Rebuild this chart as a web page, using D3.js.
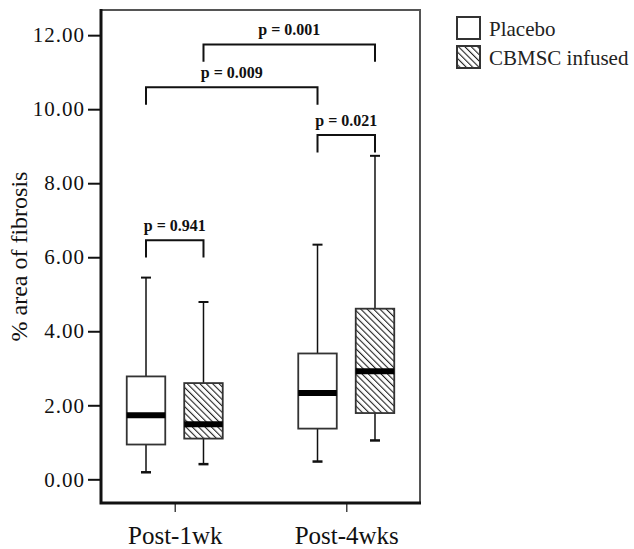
<!DOCTYPE html>
<html>
<head>
<meta charset="utf-8">
<script src="https://cdn.jsdelivr.net/npm/d3@7"></script>
<style>
  body { margin: 0; background: #fff; }
  svg { display: block; }
  svg text { font-family: "Liberation Serif", "Times New Roman", serif; }
</style>
</head>
<body>
<div id="chart"></div>
<script>
// Data
const groups = ["Post-1wk", "Post-4wks"];
const treatments = ["Placebo", "CBMSC infused"];

// one entry per box: Post-1wk Placebo, Post-1wk CBMSC, Post-4wks Placebo, Post-4wks CBMSC
const boxGroup = ["Post-1wk", "Post-1wk", "Post-4wks", "Post-4wks"];
const boxTreatment = ["Placebo", "CBMSC infused", "Placebo", "CBMSC infused"];
const whiskerLow = [0.19, 0.41, 0.48, 1.05];
const q1 = [0.94, 1.1, 1.37, 1.79];
const medians = [1.73, 1.49, 2.33, 2.92];
const q3 = [2.78, 2.6, 3.4, 4.61];
const whiskerHigh = [5.45, 4.79, 6.34, 8.74];

// significance brackets (indices into the boxes above)
const pLabels = ["p = 0.941", "p = 0.009", "p = 0.021", "p = 0.001"];
const bracketFrom = [0, 0, 2, 1];
const bracketTo = [1, 2, 3, 3];
const bracketY = [6.46, 10.59, 9.3, 11.75];
const bracketDrop = 0.47;

const yTicks = [0, 2, 4, 6, 8, 10, 12];

const width = 634, height = 549;
const plot = { left: 101, top: 10, right: 420, bottom: 503 };
const serif = "Liberation Serif, Times New Roman, serif";

const svg = d3.select("#chart")
  .append("svg")
  .attr("width", width)
  .attr("height", height)
  .attr("viewBox", [0, 0, width, height]);

// Hatch pattern
const defs = svg.append("defs");
defs.append("pattern")
  .attr("id", "hatch")
  .attr("patternUnits", "userSpaceOnUse")
  .attr("width", 4.5)
  .attr("height", 4.5)
  .attr("patternTransform", "rotate(-45)")
  .call((p) => p.append("rect").attr("width", 4.5).attr("height", 4.5).attr("fill", "#fff"))
  .append("line")
  .attr("x1", 0).attr("y1", 0)
  .attr("x2", 0).attr("y2", 4.5)
  .attr("stroke", "#222")
  .attr("stroke-width", 2.2);

// Scales
const x = d3.scalePoint()
  .domain(groups)
  .range([plot.left, plot.right])
  .padding(0.43);

const xSub = d3.scaleBand()
  .domain(treatments)
  .range([-48, 48])
  .paddingInner(0.33)
  .paddingOuter(0);

const y = d3.scaleLinear()
  .domain([-0.64, 12.68])
  .range([plot.bottom, plot.top]);

const boxX = (i) => x(boxGroup[i]) + xSub(boxTreatment[i]);
const boxC = (i) => boxX(i) + xSub.bandwidth() / 2;

// Frame: top and right thin grey
svg.append("path")
  .attr("d", `M${plot.left},${plot.top}H${plot.right}V${plot.bottom}`)
  .attr("fill", "none")
  .attr("stroke", "#555")
  .attr("stroke-width", 2);

// Y axis
svg.append("g")
  .attr("transform", `translate(${plot.left},0)`)
  .call(d3.axisLeft(y).tickValues(yTicks).tickSize(13).tickPadding(3).tickFormat(d3.format(".2f")))
  .attr("font-family", serif)
  .call((g) => g.select(".domain").remove())
  .call((g) => g.selectAll(".tick line").attr("stroke", "#111").attr("stroke-width", 2))
  .call((g) => g.selectAll(".tick text")
    .attr("font-size", 21)
    .attr("letter-spacing", 1)
    .attr("fill", "#111"));

// X axis
svg.append("g")
  .attr("transform", `translate(0,${plot.bottom})`)
  .call(d3.axisBottom(x).tickSize(9).tickPadding(14))
  .attr("font-family", serif)
  .call((g) => g.select(".domain").remove())
  .call((g) => g.selectAll(".tick line").attr("stroke", "#444").attr("stroke-width", 1.5))
  .call((g) => g.selectAll(".tick text")
    .attr("font-size", 25)
    .attr("fill", "#111"));

// Left and bottom axis lines (thick)
svg.append("path")
  .attr("d", `M${plot.left},${plot.top - 1}V${plot.bottom}H${plot.right + 1}`)
  .attr("fill", "none")
  .attr("stroke", "#111")
  .attr("stroke-width", 3);

// Y title
svg.append("text")
  .attr("transform", `translate(27,${(170 + 343) / 2}) rotate(-90)`)
  .attr("text-anchor", "middle")
  .attr("font-size", 24)
  .attr("fill", "#111")
  .text("% area of fibrosis");

// Boxes
const idx = d3.range(boxGroup.length);
const bw = xSub.bandwidth();
const capW = 10;

const boxes = svg.append("g").selectAll("g").data(idx).join("g");

// whiskers
boxes.append("line")
  .attr("x1", boxC).attr("x2", boxC)
  .attr("y1", (i) => y(whiskerHigh[i]))
  .attr("y2", (i) => y(q3[i]))
  .attr("stroke", "#111").attr("stroke-width", 1.5);
boxes.append("line")
  .attr("x1", boxC).attr("x2", boxC)
  .attr("y1", (i) => y(q1[i]))
  .attr("y2", (i) => y(whiskerLow[i]))
  .attr("stroke", "#111").attr("stroke-width", 1.5);
// caps
boxes.append("line")
  .attr("x1", (i) => boxC(i) - capW / 2).attr("x2", (i) => boxC(i) + capW / 2)
  .attr("y1", (i) => y(whiskerHigh[i])).attr("y2", (i) => y(whiskerHigh[i]))
  .attr("stroke", "#111").attr("stroke-width", 2);
boxes.append("line")
  .attr("x1", (i) => boxC(i) - capW / 2).attr("x2", (i) => boxC(i) + capW / 2)
  .attr("y1", (i) => y(whiskerLow[i])).attr("y2", (i) => y(whiskerLow[i]))
  .attr("stroke", "#111").attr("stroke-width", 2.5);
// box
boxes.append("rect")
  .attr("x", boxX)
  .attr("y", (i) => y(q3[i]))
  .attr("width", bw)
  .attr("height", (i) => y(q1[i]) - y(q3[i]))
  .attr("fill", (i) => boxTreatment[i] === "Placebo" ? "#fff" : "url(#hatch)")
  .attr("stroke", "#333")
  .attr("stroke-width", 1.8);
// median
boxes.append("line")
  .attr("x1", boxX).attr("x2", (i) => boxX(i) + bw)
  .attr("y1", (i) => y(medians[i])).attr("y2", (i) => y(medians[i]))
  .attr("stroke", "#000").attr("stroke-width", 6);

// Brackets
const br = svg.append("g").selectAll("g").data(d3.range(pLabels.length)).join("g");
br.append("path")
  .attr("d", (k) => {
    const x1 = boxC(bracketFrom[k]), x2 = boxC(bracketTo[k]);
    const yTop = y(bracketY[k]), yBot = y(bracketY[k] - bracketDrop);
    return `M${x1},${yBot}V${yTop}H${x2}V${yBot}`;
  })
  .attr("fill", "none")
  .attr("stroke", "#111")
  .attr("stroke-width", 2);
br.append("text")
  .attr("x", (k) => (boxC(bracketFrom[k]) + boxC(bracketTo[k])) / 2)
  .attr("y", (k) => y(bracketY[k]) - 9)
  .attr("text-anchor", "middle")
  .attr("font-weight", "bold")
  .attr("font-size", 16)
  .attr("fill", "#111")
  .text((k) => pLabels[k]);

// Legend
const legend = svg.append("g").attr("transform", "translate(456,16)");
const leg = legend.selectAll("g").data(treatments).join("g")
  .attr("transform", (d, i) => `translate(0,${i * 29})`);
leg.append("rect")
  .attr("x", 1).attr("y", 1)
  .attr("width", 23).attr("height", 22)
  .attr("fill", (d) => d === "Placebo" ? "#fff" : "url(#hatch)")
  .attr("stroke", "#333")
  .attr("stroke-width", 2);
leg.append("text")
  .attr("x", 33)
  .attr("y", 20)
  .attr("font-size", 21)
  .attr("fill", "#222")
  .text((d) => d);
</script>
</body>
</html>
